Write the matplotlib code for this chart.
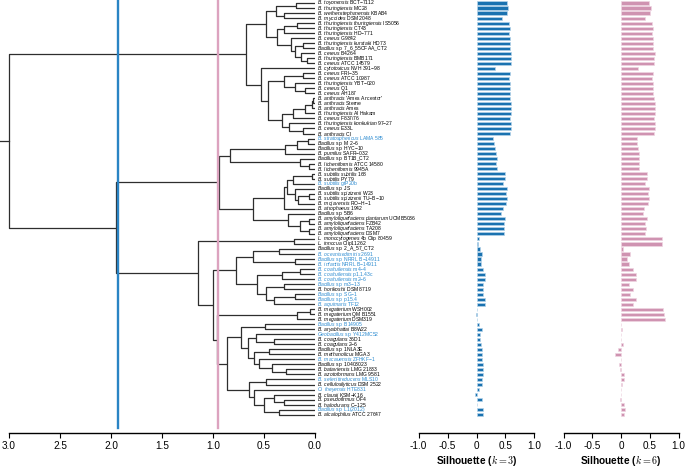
import matplotlib
matplotlib.use('Agg')
import matplotlib.pyplot as plt
import numpy as np

plt.rcParams['font.family'] = ['Liberation Sans', 'DejaVu Sans']
plt.rcParams['mathtext.fontset'] = 'custom'
plt.rcParams['mathtext.it'] = 'Liberation Sans:italic'
plt.rcParams['mathtext.rm'] = 'Liberation Sans'

# leaf labels: italic name + roman strain
species = ['B. toyonensis', 'B. thuringiensis', 'B. weihenstephanensis', 'B. mycoides',
           'B. thuringiensis thuringiensis', 'B. thuringiensis', 'B. thuringiensis', 'B. cereus',
           'B. thuringiensis kurstaki', 'Bacillus', 'B. cereus', 'B. thuringiensis', 'B. cereus',
           'B. cytotoxicus', 'B. cereus', 'B. cereus', 'B. thuringiensis', 'B. cereus', 'B. cereus',
           'B. anthracis', 'B. anthracis', 'B. anthracis', 'B. thuringiensis', 'B. cereus',
           'B. thuringiensis konkukian', 'B. cereus', 'B. anthracis',
           'B. stratosphericus', 'Bacillus', 'Bacillus', 'B. pumilus', 'Bacillus', 'B. licheniformis',
           'B. licheniformis', 'B. subtilis subtilis', 'B. subtilis', 'B. subtilis', 'Bacillus',
           'B. subtilis spizizenii', 'B. subtilis spizizenii', 'B. mojavensis', 'B. atrophaeus',
           'Bacillus', 'B. amyloliquefaciens plantarum', 'B. amyloliquefaciens', 'B. amyloliquefaciens',
           'B. amyloliquefaciens', 'L. monocytogenes', 'L. innocua', 'Bacillus', 'B. oceanisediminis',
           'Bacillus', 'B. infantis', 'B. coahuilensis', 'B. coahuilensis', 'B. coahuilensis',
           'Bacillus', 'B. horikoshii', 'Bacillus', 'Bacillus', 'B. aquimaris', 'B. megaterium',
           'B. megaterium', 'B. megaterium', 'Bacillus', 'B. aryabhattai', 'Geobacillus',
           'B. coagulans', 'B. coagulans', 'Bacillus', 'B. methanolicus', 'B. macauensis', 'Bacillus',
           'B. bataviensis', 'B. azotoformans', 'B. selenitireducens', 'B. cellulosilyticus',
           'O. iheyensis', 'B. clausii', 'B. pseudofirmus', 'B. halodurans', 'Bacillus',
           'B. alcalophilus']
strains = ['BCT−7112', 'MC28', 'KBAB4', 'DSM 2048', 'IS5056', 'CT43', 'HD−771', 'G9842', 'HD73',
           'sp. 7_6_55CFAA_CT2', 'B4264', 'BMB171', 'ATCC 14579', 'NVH 391−98', 'FRI−35',
           'ATCC 10987', 'YBT−020', 'Q1', 'AH187', "'Ames Ancestor'", 'Sterne', 'Ames', 'Al Hakam',
           'F837/76', '97−27', 'E33L', 'CI', 'LAMA 585', 'sp. M 2−6', 'sp. HYC−10', 'SAFR−032',
           'sp. BT1B_CT2', 'ATCC 14580', '9945A', '168', 'PY79', 'gtP20b', 'sp. JS', 'W23',
           'TU−B−10', 'RO−H−1', '1942', 'sp. 5B6', 'UCMB5036', 'FZB42', 'TA208', 'DSM7',
           '4b Clip 80459', 'Clip11262', 'sp. 2_A_57_CT2', '2691', 'sp. NRRL B−14911',
           'NRRL B−14911', 'm4−4', 'p1.1.43c', 'm2−6', 'sp. m3−13', 'DSM 8719', 'sp. SG−1',
           'sp. p15.4', 'TF12', 'WSH002', 'QM B1551', 'DSM319', 'sp. B14905', 'B8W22',
           'sp. Y412MC52', '36D1', '2−6', 'sp. 1NLA3E', 'MGA3', 'ZFHKF−1', 'sp. 10403023',
           'LMG 21833', 'LMG 9581', 'MLS10', 'DSM 2522', 'HTE831', 'KSM−K16', 'OF4', 'C−125',
           'sp. L1(2012)', 'ATCC 27647']
highlight = [28, 37, 51, 52, 53, 54, 55, 56, 57, 59, 60, 61, 65, 67, 72, 76, 78, 82]

sil_k3 = [0.53, 0.545, 0.52, 0.44, 0.56, 0.58, 0.565, 0.585, 0.575, 0.58, 0.60, 0.59, 0.59,
          0.315, 0.575, 0.57, 0.575, 0.585, 0.58, 0.575, 0.59, 0.59, 0.59, 0.575, 0.59, 0.59, 0.585,
          0.29, 0.30, 0.325, 0.335, 0.35, 0.345, 0.355, 0.49, 0.50, 0.45, 0.52, 0.51, 0.52, 0.51,
          0.45, 0.42, 0.49, 0.47, 0.48, 0.47,
          0.035, 0.03, 0.06, 0.09, 0.07, 0.08, 0.11, 0.14, 0.145, 0.11, 0.12, 0.11, 0.14, 0.155,
          0.01, -0.005, 0.005, 0.035, 0.10, 0.055, 0.06, 0.07, 0.09, 0.10, 0.10, 0.12, 0.11, 0.11,
          0.10, 0.10, 0.035, -0.03, 0.10, 0.01, 0.12, 0.11]
sil_k6 = [0.49, 0.51, 0.50, 0.42, 0.53, 0.555, 0.54, 0.56, 0.555, 0.56, 0.58, 0.57, 0.57,
          0.295, 0.56, 0.54, 0.56, 0.56, 0.56, 0.57, 0.58, 0.58, 0.58, 0.565, 0.58, 0.58, 0.57,
          0.27, 0.28, 0.295, 0.305, 0.31, 0.31, 0.31, 0.445, 0.45, 0.415, 0.48, 0.47, 0.475, 0.47,
          0.39, 0.38, 0.44, 0.415, 0.43, 0.415,
          0.705, 0.71, 0.03, 0.16, 0.10, 0.13, 0.20, 0.26, 0.26, 0.14, 0.21, 0.155, 0.26, 0.21,
          0.72, 0.75, 0.76, 0.005, 0.01, 0.005, -0.005, 0.035, -0.05, -0.10, -0.01, -0.04, -0.02,
          0.04, 0.04, 0.01, 0.0, 0.0, -0.02, 0.04, 0.065, 0.045]

# dendrogram: (height, left, right), leaves are 1-based indices
cereus = (0.675,
          (0.48, (0.38, (0.19, 1, 2), (0.30, 3, 4)),
                 (0.37, (0.30, (0.18, 5, 6), 7),
                        (0.24, 8, (0.20, (0.12, 9, 10), (0.14, 11, (0.08, 12, 13)))))),
          (0.53, 14, (0.46, (0.30, (0.12, 15, 16), (0.20, 17, (0.10, 18, 19))),
                            (0.32, (0.22, (0.10, (0.03, (0.02, 20, 21), 22), 23), 24),
                                   (0.25, 25, (0.12, 26, 27))))))
subtilis = (0.94,
            (0.83, (0.29, (0.18, (0.07, 28, 29), 30), 31), (0.15, 32, (0.06, 33, 34))),
            (0.61, (0.30, (0.27, (0.22, (0.03, 35, 36), 37), (0.20, 38, (0.17, (0.06, 39, 40), 41))), 42),
                   (0.26, 43, (0.15, (0.06, 44, 45), (0.06, 46, 47)))))
others = (0.86,
          (0.73, (0.49, 65, 66),
                 (0.66, (0.58, 67, (0.40, 68, 69)),
                        (0.60, (0.45, 70, 71), (0.55, 72, (0.42, 73, (0.28, 74, 75)))))),
          (0.645, (0.48, 76, 77), (0.60, 78, (0.50, (0.40, 79, (0.30, 80, 81)), (0.35, 82, 83)))))
rest = (1.15, (0.21, 48, 49),
        (1.0, (0.77, (0.61, (0.35, 50, 51), (0.20, 52, 53)),
                     (0.57, (0.32, (0.15, 54, 55), 56), (0.48, (0.30, 57, 58), (0.40, (0.20, 59, 60), 61)))),
              (0.965, (0.18, (0.05, 62, 63), 64), others)))
tree = (3.0, cereus, (1.95, subtilis, rest))

cut_k3 = 1.93
cut_k6 = 0.952

n = len(species)
W, H = 685, 468
fig = plt.figure(figsize=(6.85, 4.68), dpi=100)

def fx(px):
    return px / W

bot = 1 - 433 / H
hgt = 433 / H
ax = fig.add_axes([0, bot, fx(315), hgt])
ax1 = fig.add_axes([fx(418.7), bot, fx(115.6), hgt])
ax2 = fig.add_axes([fx(563.7), bot, fx(115.0), hgt])

ymin, ymax = -3 / 5.02, (433 - 3) / 5.02
line_col = '#2e2e2e'

def draw(node):
    if isinstance(node, int):
        return node - 1, 0.0
    h, a, b = node
    ya, ha = draw(a)
    yb, hb = draw(b)
    ax.plot([ha, h, h, hb], [ya, ya, yb, yb], color=line_col, lw=0.9, solid_capstyle='butt')
    return (ya + yb) / 2, h

yroot, hroot = draw(tree)
ax.plot([hroot, 3.09], [yroot, yroot], color=line_col, lw=0.9)

ytop = (428 - 3) / 5.02
ax.plot([cut_k3, cut_k3], [ymin, ytop], color='#2a84c4', lw=1.7, zorder=5)
ax.plot([cut_k6, cut_k6], [ymin, ytop], color='#dca3bf', lw=1.7, zorder=5)

for i in range(n):
    name = '$' + species[i].replace(' ', r'\ ') + '$ ' + strains[i]
    col = '#2a8ad0' if (i + 1) in highlight else 'black'
    ax.text(-0.02, i, name, fontsize=3.6, color=col, ha='left', va='center', clip_on=False)

ax.set_xlim(3.088, 0)
ax.set_ylim(ymax, ymin)
ax.set_xticks([3.0, 2.5, 2.0, 1.5, 1.0, 0.5, 0.0])
ax.set_xticklabels(['3.0', '2.5', '2.0', '1.5', '1.0', '0.5', '0.0'])

ypos = np.arange(n)
ax1.barh(ypos, sil_k3, height=0.62, color='#1a72b0', edgecolor='#b5d4ea', linewidth=0.5)
ax2.barh(ypos, sil_k6, height=0.62, color='#cf93b1', edgecolor='#efd6e2', linewidth=0.5)

for a in (ax1, ax2):
    a.set_xlim(-1, 1)
    a.set_ylim(ymax, ymin)
    a.set_xticks([-1, -0.5, 0, 0.5, 1])
    a.set_xticklabels(['-1.0', '-0.5', '0', '0.5', '1.0'])

for a in (ax, ax1, ax2):
    a.patch.set_visible(False)
    for s in ('left', 'right', 'top'):
        a.spines[s].set_visible(False)
    a.spines['bottom'].set_linewidth(1.0)
    a.set_yticks([])
    a.tick_params(axis='x', direction='out', length=3.5, width=0.8, labelsize=7.2, pad=2)
ax.spines['bottom'].set_bounds(0, 3)

fig.text(fx(476.5), 1 - 461 / H, r'Silhouette ($k = 3$)', fontsize=7.3, fontweight='bold',
         ha='center', va='center', math_fontfamily='cm')
fig.text(fx(621.2), 1 - 461 / H, r'Silhouette ($k = 6$)', fontsize=7.3, fontweight='bold',
         ha='center', va='center', math_fontfamily='cm')

fig.savefig('out.png', dpi=100)
